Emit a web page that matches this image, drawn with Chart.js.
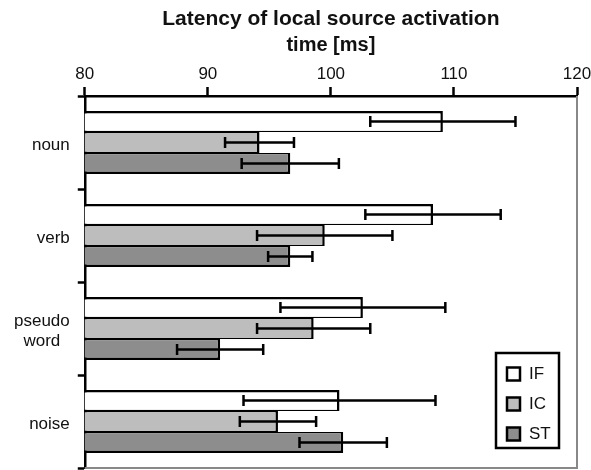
<!DOCTYPE html>
<html>
<head>
<meta charset="utf-8">
<script src="https://cdn.jsdelivr.net/npm/chart.js@4.4.0/dist/chart.umd.min.js"></script>
<style>
  html, body { margin: 0; padding: 0; background: #fff; }
  #wrap { width: 591px; height: 470px; }
</style>
</head>
<body>
<div id="wrap"><canvas id="latencyChart"></canvas></div>
<script>
// Datos
const categorias = ['noun', 'verb', ['pseudo', 'word  '], 'noise'];
const series = ['IF', 'IC', 'ST'];
const valoresIF = [109.1, 108.3, 102.6, 100.7];
const valoresIC = [94.2, 99.5, 98.6, 95.7];
const valoresST = [96.7, 96.7, 91.0, 101.0];
const errorIF = [5.9, 5.5, 6.7, 7.8];
const errorIC = [2.8, 5.5, 4.6, 3.1];
const errorST = [3.95, 1.8, 3.5, 3.55];
const ticksX = [80, 90, 100, 110, 120];

const fuente = "'Liberation Sans', Arial, sans-serif";
const colores = ['#ffffff', '#bdbdbd', '#8d8d8d'];

// bordes: el borde compartido entre barras no debe verse doble
const bordes = [
    { top: 2.5, bottom: 1.3, left: 2.5, right: 2.5 },
    { top: 1.3, bottom: 1.3, left: 2.5, right: 2.5 },
    { top: 1.3, bottom: 2.5, left: 2.5, right: 2.5 }
];

// Barras de error
const barrasError = {
    id: 'barrasError',
    afterDatasetsDraw(chart) {
        const ctx = chart.ctx;
        const escalaX = chart.scales.x;
        ctx.save();
        ctx.strokeStyle = '#000';
        ctx.lineWidth = 2.5;
        chart.data.datasets.forEach((ds, i) => {
            const meta = chart.getDatasetMeta(i);
            meta.data.forEach((barra, j) => {
                const v = ds.data[j];
                const e = ds.errores[j];
                const x1 = escalaX.getPixelForValue(v - e);
                const x2 = escalaX.getPixelForValue(v + e);
                const y = barra.y;
                ctx.beginPath();
                ctx.moveTo(x1, y);
                ctx.lineTo(x2, y);
                ctx.moveTo(x1, y - 5.5);
                ctx.lineTo(x1, y + 5.5);
                ctx.moveTo(x2, y - 5.5);
                ctx.lineTo(x2, y + 5.5);
                ctx.stroke();
            });
        });
        ctx.restore();
    }
};

// Marco gris y leyenda dentro del área
const marcoLeyenda = {
    id: 'marcoLeyenda',
    afterDraw(chart) {
        const ctx = chart.ctx;
        const area = chart.chartArea;
        ctx.save();
        ctx.strokeStyle = '#888';
        ctx.lineWidth = 2;
        ctx.beginPath();
        ctx.moveTo(area.right, area.top);
        ctx.lineTo(area.right, area.bottom);
        ctx.lineTo(area.left, area.bottom);
        ctx.stroke();

        const izq = area.right - 81, der = area.right - 18;
        const arr = area.bottom - 115, abj = area.bottom - 20;
        ctx.fillStyle = '#fff';
        ctx.fillRect(izq, arr, der - izq, abj - arr);
        ctx.strokeStyle = '#000';
        ctx.lineWidth = 2.5;
        ctx.strokeRect(izq, arr, der - izq, abj - arr);

        ctx.font = '17px ' + fuente;
        ctx.textBaseline = 'middle';
        chart.data.datasets.forEach((ds, i) => {
            const yc = arr + 21 + i * 30;
            ctx.fillStyle = ds.backgroundColor;
            ctx.fillRect(izq + 11, yc - 6.5, 13, 13);
            ctx.strokeStyle = '#000';
            ctx.lineWidth = 2.5;
            ctx.strokeRect(izq + 11, yc - 6.5, 13, 13);
            ctx.fillStyle = '#111';
            ctx.fillText(ds.label, izq + 33, yc);
        });
        ctx.restore();
    }
};

const valores = [valoresIF, valoresIC, valoresST];
const errores = [errorIF, errorIC, errorST];

const latencyChart = new Chart(
    document.getElementById('latencyChart'),
    {
        type: 'bar',
        data: {
            labels: categorias,
            datasets: series.map((nombre, i) => ({
                label: nombre,
                data: valores[i],
                errores: errores[i],
                backgroundColor: colores[i],
                borderColor: '#000',
                borderWidth: bordes[i],
                borderSkipped: false,
                barPercentage: 1.0,
                categoryPercentage: 0.677
            }))
        },
        options: {
            indexAxis: 'y',
            responsive: true,
            maintainAspectRatio: false,
            animation: false,
            layout: {
                padding: { left: 6, right: 14, top: 0, bottom: 2 }
            },
            plugins: {
                legend: { display: false },
                tooltip: { enabled: false },
                title: {
                    display: true,
                    fullSize: false,
                    text: 'Latency of local source activation',
                    color: '#111',
                    font: { size: 21, weight: 'bold', family: fuente },
                    padding: { top: 7, bottom: 1.3 }
                }
            },
            scales: {
                x: {
                    position: 'top',
                    min: ticksX[0],
                    max: ticksX[ticksX.length - 1],
                    afterBuildTicks: eje => {
                        eje.ticks = ticksX.map(v => ({ value: v }));
                    },
                    afterFit: eje => {
                        eje.paddingLeft = 0;
                        eje.paddingRight = 0;
                    },
                    grid: {
                        drawOnChartArea: false,
                        tickLength: 9,
                        tickColor: '#000',
                        tickWidth: 2.5
                    },
                    border: { color: '#000', width: 2.5 },
                    ticks: {
                        color: '#111',
                        padding: 2.8,
                        font: { size: 17, family: fuente }
                    },
                    title: {
                        display: true,
                        text: 'time [ms]',
                        color: '#111',
                        font: { size: 20, weight: 'bold', family: fuente },
                        padding: { top: 0, bottom: 3.5 }
                    }
                },
                y: {
                    afterFit: eje => {
                        eje.paddingTop = 0;
                        eje.paddingBottom = 0;
                    },
                    grid: {
                        drawOnChartArea: false,
                        offset: true,
                        tickLength: 7,
                        tickColor: '#000',
                        tickWidth: 2.5
                    },
                    border: { color: '#000', width: 2.5 },
                    ticks: {
                        color: '#111',
                        padding: 8,
                        labelOffset: 3,
                        font: { size: 17, family: fuente }
                    }
                }
            }
        },
        plugins: [barrasError, marcoLeyenda]
    }
);
</script>
</body>
</html>
